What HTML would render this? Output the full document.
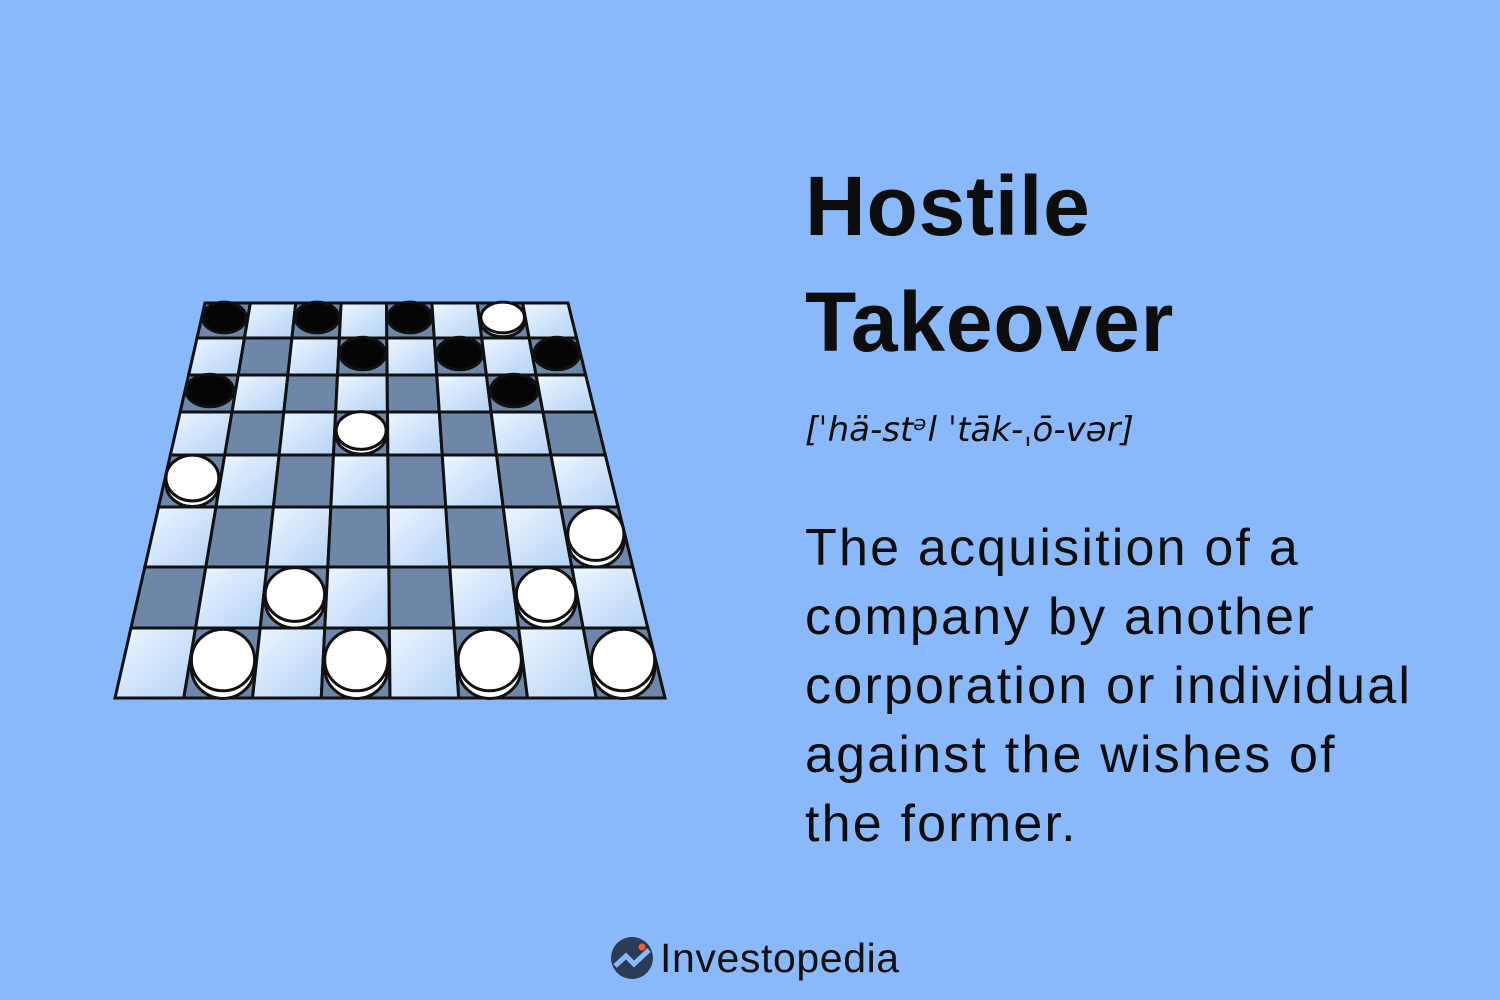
<!DOCTYPE html>
<html><head><meta charset="utf-8">
<style>
html,body{margin:0;padding:0}
body{width:1500px;height:1000px;background:#8ab9fb;position:relative;overflow:hidden;font-family:"Liberation Sans","DejaVu Sans",sans-serif;color:#0d0d0d}
.t{position:absolute;left:805px;margin:0;white-space:nowrap}
#title{top:148px;font-size:84px;font-weight:bold;line-height:116px;letter-spacing:0.8px}
#pron{top:410px;font-size:34px;font-style:italic;font-family:"DejaVu Sans","Liberation Sans",sans-serif;letter-spacing:0px}
#def{top:514px;font-size:52px;line-height:69px;letter-spacing:2.2px}
#logo{position:absolute;left:610px;top:934px;width:300px;height:50px}
</style></head><body>
<svg id="board" width="1500" height="1000" style="position:absolute;left:0;top:0">
<defs>
<linearGradient id="lg" x1="0" y1="0" x2="1" y2="1"><stop offset="0" stop-color="#eef6ff"/><stop offset="1" stop-color="#b3d2f6"/></linearGradient>
</defs>
<g id="sq"></g><g id="pc"></g>
</svg>
<h1 class="t" id="title">Hostile<br>Takeover</h1>
<p class="t" id="pron">[ˈhä-stᵊl ˈtāk-ˌō-vər]</p>
<p class="t" id="def">The acquisition of a<br>company by another<br>corporation or individual<br>against the wishes of<br>the former.</p>
<svg id="logo" viewBox="0 0 300 50">
<circle cx="22" cy="24" r="21" fill="#2b3a55"/>
<path d="M5 32 L16 22 L24 30 L39 16" stroke="#8ab9fb" stroke-width="5" fill="none"/>
<circle cx="32" cy="13" r="3.5" fill="#ff5a2c"/>
<text x="50" y="38" font-size="41" letter-spacing="0.6" font-family="Liberation Sans, sans-serif" fill="#111">Investopedia</text>
</svg>
<script>
const rowsY=[303,338,375,412,455,507,567,628,698];
const blackPieces=[[0,0],[0,2],[0,4],[1,3],[1,5],[1,7],[2,0],[2,6]];
const whitePieces=[[0,6],[3,3],[4,0],[5,7],[6,2],[6,6],[7,1],[7,3],[7,5],[7,7]];
const NS='http://www.w3.org/2000/svg';
function lx(y){return 205+(115-205)*(y-303)/(698-303);}
function rx(y){return 568+(665-568)*(y-303)/(698-303);}
function pt(c,r){const y=rowsY[r];return [lx(y)+(rx(y)-lx(y))*c/8,y];}
const sq=document.getElementById('sq'),pc=document.getElementById('pc');
for(let r=0;r<8;r++)for(let c=0;c<8;c++){
 const p=[pt(c,r),pt(c+1,r),pt(c+1,r+1),pt(c,r+1)];
 const e=document.createElementNS(NS,'polygon');
 
 
 e.setAttribute('points',p.map(a=>a.join(',')).join(' '));
 e.setAttribute('fill',(r+c)%2==0?'#6e87a8':'url(#lg)');
 e.setAttribute('stroke','#111');e.setAttribute('stroke-width','3');
 sq.appendChild(e);
}
function piece(r,c,black){
 const a=pt(c+0.5,r),b=pt(c+0.5,r+1);
 const cx=(a[0]+b[0])/2,cy=(a[1]+b[1])/2-3;
 const w=(pt(c+1,r+1)[0]-pt(c,r+1)[0])*0.46;
 const h=(rowsY[r+1]-rowsY[r])*0.44;
 const g=document.createElementNS(NS,'g');
 
 
 if(!black){
  const s=document.createElementNS(NS,'ellipse');
  s.setAttribute('cx',cx);s.setAttribute('cy',cy+h*0.25);s.setAttribute('rx',w);s.setAttribute('ry',h);
  s.setAttribute('fill','#fff');s.setAttribute('stroke','#111');s.setAttribute('stroke-width','3');g.appendChild(s);
 }
 const t=document.createElementNS(NS,'ellipse');
 t.setAttribute('cx',cx);t.setAttribute('cy',cy);t.setAttribute('rx',w);t.setAttribute('ry',h);
 t.setAttribute('fill',black?'#050505':'#fff');t.setAttribute('stroke','#111');t.setAttribute('stroke-width','3');
 g.appendChild(t);pc.appendChild(g);
}
blackPieces.forEach(p=>piece(p[0],p[1],true));
whitePieces.forEach(p=>piece(p[0],p[1],false));
</script>
</body></html>
